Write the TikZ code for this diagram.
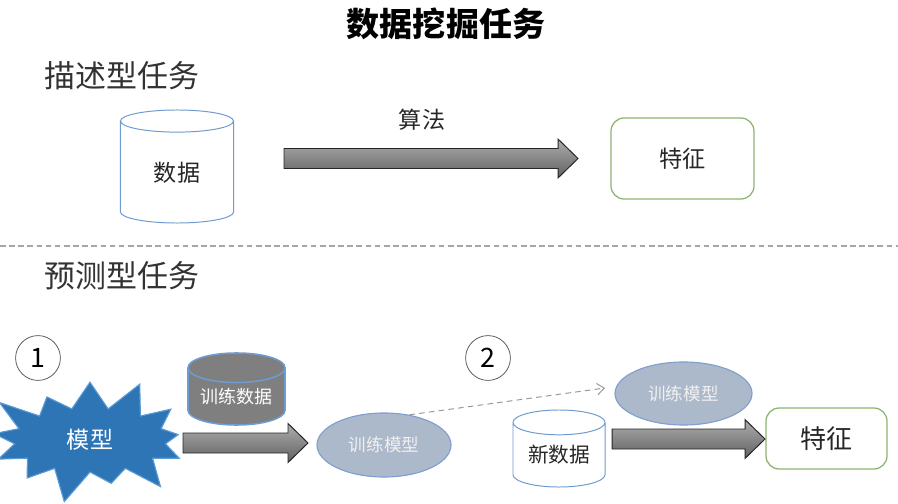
\documentclass[tikz,border=0pt]{standalone}
\usepackage{fontspec}
\setmainfont{Noto Sans CJK SC}
\usepackage{tikz}
\usetikzlibrary{
  shapes.geometric,
  shapes.symbols,
  arrows.meta,
  positioning,
  calc
}
\definecolor{edgeblue}{HTML}{6E9BD0}
\definecolor{burstblue}{HTML}{2E75B6}
\definecolor{burstedge}{HTML}{5B9BD5}
\definecolor{modelfill}{HTML}{ACB9CA}
\definecolor{modeledge}{HTML}{7F9FCF}
\definecolor{featgreen}{HTML}{8CB56F}
\definecolor{datagray}{HTML}{7F7F7F}
\definecolor{sepgray}{HTML}{A6A6A6}
\newcommand{\fs}[1]{\fontsize{#1}{#1}\selectfont}
\tikzset{
  heading/.style={anchor=west, inner sep=0pt, font=\fs{22}, text=black!80},
  store/.style={
    cylinder, shape border rotate=90, anchor=shape center, draw=edgeblue, fill=white,
    inner sep=0pt, line width=0.7pt, text=black!85
  },
  feature/.style={
    rectangle, draw=featgreen, fill=white, rounded corners=0.33cm,
    inner sep=0pt, line width=0.9pt, text=black!85
  },
  model/.style={
    ellipse, draw=modeledge, fill=modelfill, inner sep=0pt,
    line width=0.8pt, text=white!94!black, font=\fs{12.5}
  },
  stepmark/.style={circle, draw=black!70, fill=white, line width=0.5pt, minimum size=1.12cm, inner sep=0pt, font=\fs{19}},
  bigarrow/.style={draw=black!85, line width=0.7pt, top color=black!32, bottom color=black!62},
  dasharrow/.style={-{Straight Barb[length=5pt, width=8pt]}, dashed, dash pattern=on 4pt off 3pt, draw=black!40, line width=0.7pt},
}
% horizontal block arrow from #1 to the tip #2
\newcommand{\blockarrow}[2]{%
  \path[bigarrow] ($(#1)+(0,-10)$) -- ($(#2)+(-20,-10)$) -- ($(#2)+(-20,-19.5)$) -- (#2)
    -- ($(#2)+(-20,19.5)$) -- ($(#2)+(-20,10)$) -- ($(#1)+(0,10)$) -- cycle;}

\begin{document}
\begin{tikzpicture}[x=0.025cm, y=-0.025cm]
\useasboundingbox (0,0) rectangle (898,504);

% Title
\node[font=\fs{23.5}\bfseries] (title) at (446,24) {数据挖掘任务};

% Descriptive task
\node[heading] (desc) at (44,76) {描述型任务};
\node[store, minimum width=2.825cm, minimum height=2.825cm, aspect=0.48, font=\fs{16.4}] (data) at (177,166.5) {数据};
\node[feature, minimum width=3.575cm, minimum height=2.025cm, font=\fs{16.5}] (feat) at (682.5,158.5) {特征};
\coordinate (algo-s) at (284,158.5);
\coordinate (algo-e) at (578,158.5);
\blockarrow{algo-s}{algo-e}
\node[font=\fs{16.4}, text=black!85] (algo) at (422,120) {算法};

% Separator
\draw[sepgray, dashed, dash pattern=on 4pt off 2.5pt, line width=1.1pt] (0,246) -- (898,246);

% Predictive task
\node[heading] (pred) at (44,276) {预测型任务};
\node[stepmark] (one) at (38,358) {1};
\node[stepmark] (two) at (488,358) {2};

\node[starburst, starburst points=13, starburst point height=0.9cm, fill=burstblue, draw=burstedge, line width=0.8pt,
  minimum width=5.6cm, minimum height=3.4cm, inner sep=0pt, text=white, font=\fs{16.4}] (model) at (90,440) {模型};
\node[store, fill=datagray, draw=edgeblue, line width=1.1pt, minimum width=2.425cm, minimum height=1.8cm,
  aspect=0.41, text=white, font=\fs{12.8}] (train) at (236.5,389) {训练数据};
\coordinate (fit-s) at (183,443);
\coordinate (fit-e) at (308,443);
\blockarrow{fit-s}{fit-e}
\node[model, minimum width=3.35cm, minimum height=1.6cm] (fit) at (384,445) {训练模型};

\node[model, minimum width=3.425cm, minimum height=1.575cm] (fitted) at (683.5,393.5) {训练模型};
\coordinate (dash-e) at (605,388);
\draw[dasharrow] (fit.50) -- (dash-e);
\node[store, minimum width=2.3cm, minimum height=1.925cm, aspect=0.4, font=\fs{14.7}] (newdata) at (559,448.5) {新数据};
\node[feature, minimum width=3.025cm, minimum height=1.525cm, font=\fs{18.5}] (feat2) at (826.5,438.5) {特征};
\coordinate (pred-s) at (612,439);
\coordinate (pred-e) at (765,439);
\blockarrow{pred-s}{pred-e}

\end{tikzpicture}
\end{document}
